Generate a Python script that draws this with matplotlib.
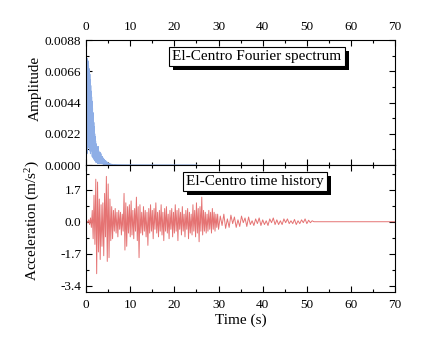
import matplotlib
matplotlib.use("Agg")
import matplotlib.pyplot as plt
import numpy as np
from matplotlib.ticker import MultipleLocator
from matplotlib.patches import Rectangle
from matplotlib.transforms import IdentityTransform

plt.rcParams['font.family'] = ['Liberation Serif', 'DejaVu Serif']
plt.rcParams['mathtext.fontset'] = 'custom'
plt.rcParams['mathtext.rm'] = 'Liberation Serif'
plt.rcParams['mathtext.it'] = 'Liberation Serif:italic'

# Fourier spectrum amplitude (x 1e-4), sampled every 0.05 Hz from 0 to 6 Hz
spec_freq = np.round(np.arange(0, 6.001, 0.05), 2)
spec_amp = [
    5, 60, 10, 72, 8, 75, 20, 74, 15, 73,
    30, 70, 12, 68, 25, 66, 10, 64, 20, 60,
    8, 56, 18, 52, 10, 48, 14, 45, 6, 40,
    12, 37, 5, 33, 10, 30, 4, 27, 8, 22,
    3, 20, 6, 17, 2, 15, 5, 14, 2, 13,
    4, 12, 1, 11, 3, 13, 1, 10, 3, 9,
    1, 8, 2, 9, 1, 7, 2, 8, 1, 6,
    1, 5, 1, 6, 1, 4, 1, 5, 0.5, 4,
    1, 3, 0.5, 4, 0.5, 3, 0.5, 2.5, 0.3, 3,
    0.3, 2, 0.3, 2, 0.2, 1.5, 0.2, 2, 0.2, 1.2,
    0.2, 1, 0.1, 1.2, 0.1, 0.8, 0.1, 1, 0.1, 0.6,
    0.1, 0.5, 0.1, 0.6, 0.1, 0.4, 0.1, 0.5, 0.1, 0.3,
    0.2,
]
spec_tail_freq = [6.5, 7.0, 8.0, 10.0, 15.0, 25.0]
spec_tail_amp = [0.3, 0.2, 0.15, 0.1, 0.05, 0.02]

# acceleration record (m/s^2): 0.2 s steps for 0-29.8 s
acc_fast = [
    0.0, 0.02, -0.05, 0.1, -0.15, 0.2, -0.3, 0.6, -0.9, 1.4,
    -1.2, 2.25, -2.75, 2.1, -1.6, 1.2, -2.0, 0.9, -1.3, 1.0,
    -1.8, 1.5, -0.8, 2.4, -2.1, 2.0, -1.9, 1.2, -1.0, 0.8,
    -0.9, 0.6, -0.5, 0.7, -0.6, 0.5, -0.8, 0.6, -0.4, 0.5,
    -0.7, 0.4, -0.5, 1.5, -1.5, 1.0, -1.3, 0.8, -0.6, 0.9,
    -0.8, 1.1, -0.7, 0.6, -0.9, 0.7, -0.5, 1.3, -1.0, 0.8,
    -1.9, 0.9, -0.6, 0.5, -0.7, 0.8, -0.5, 0.6, -0.8, 0.5,
    -1.25, 0.7, -0.6, 0.9, -0.5, 0.6, -0.9, 0.7, -0.4, 1.0,
    -0.6, 0.5, -0.8, 0.6, -0.5, 0.9, -0.7, 0.5, -1.0, 0.7,
    -0.5, 0.8, -0.6, 0.4, -0.9, 0.6, -0.4, 0.7, -0.8, 0.5,
    -0.6, 0.9, -0.5, 0.6, -1.0, 0.7, -0.4, 0.5, -0.7, 0.8,
    -0.5, 0.4, -0.8, 0.6, -0.4, 0.7, -0.9, 0.5, -0.6, 0.4,
    -0.7, 0.9, -0.5, 0.6, -0.8, 1.0, -0.6, 0.7, -1.06, 0.8,
    -0.5, 1.3, -0.7, 0.6, -0.5, 0.5, -0.6, 0.4, -0.5, 0.6,
    -0.4, 0.5, -0.6, 0.7, -0.4, 0.5, -0.5, 0.4, -0.3, 0.4,
]
# 0.4 s steps for 30.0-53.6 s
acc_slow = [
    -0.4, 0.3, -0.2, 0.4, -0.35, 0.15, -0.3, 0.35, -0.1, 0.25,
    -0.3, 0.1, -0.25, 0.3, -0.05, 0.2, -0.25, 0.25, -0.15, 0.05,
    -0.2, 0.15, -0.1, 0.2, -0.2, 0.1, -0.15, 0.05, -0.2, 0.15,
    -0.05, 0.2, -0.15, 0.1, -0.15, 0.05, -0.15, 0.15, -0.05, 0.15,
    -0.1, 0.05, -0.1, 0.12, -0.15, 0.05, -0.1, 0.1, -0.05, 0.15,
    -0.1, 0.08, -0.05, 0.05, 0.0, 0.0, 0.0, 0.0, 0.0, 0.0,
]
acc_end_time = [70.0]
acc_end = [0.0]

time = np.concatenate([np.round(np.arange(0, 29.9, 0.2), 2),
                       np.round(np.arange(30.0, 53.7, 0.4), 2),
                       acc_end_time])
acc = np.array(acc_fast + acc_slow + acc_end)
freq = np.concatenate([spec_freq, spec_tail_freq])
amp = np.array(spec_amp + spec_tail_amp) * 1e-4

fig = plt.figure(figsize=(4.24, 3.46), dpi=100)
ax1 = fig.add_axes([0.203, 0.523, 0.729, 0.361])
ax2 = fig.add_axes([0.203, 0.156, 0.729, 0.367], sharex=ax1)

ax1.plot(freq, amp, color='#8eaee6', lw=0.8)
ax2.plot(time, acc, color='#e57373', lw=0.7)

ax1.set_xlim(0, 70)
ax1.set_ylim(0, 0.0088)
ax1.set_yticks([0, 0.0022, 0.0044, 0.0066, 0.0088])
ax1.set_yticklabels(['0.0000', '0.0022', '0.0044', '0.0066', '0.0088'])
ax1.yaxis.set_minor_locator(MultipleLocator(0.0011))
ax2.set_ylim(-3.72, 3.0)
ax2.set_yticks([-3.4, -1.7, 0, 1.7])
ax2.set_yticklabels(['-3.4', '-1.7', '0.0', '1.7'])
ax2.yaxis.set_minor_locator(MultipleLocator(0.85))
ax2.xaxis.set_major_locator(MultipleLocator(10))
ax2.xaxis.set_minor_locator(MultipleLocator(5))

for ax in (ax1, ax2):
    ax.tick_params(which='both', direction='in', top=True, right=True,
                   labelsize=9.5, width=0.8)
    ax.tick_params(which='major', length=4)
    ax.tick_params(which='minor', length=2)
    ax.tick_params(axis='x', pad=5)
    for s in ax.spines.values():
        s.set_linewidth(0.8)
ax1.tick_params(axis='x', labeltop=True, labelbottom=False)

ax1.set_ylabel('Amplitude', fontsize=11)
ax2.set_ylabel('Acceleration (m/s$^2$)', fontsize=11)
ax2.set_xlabel('Time (s)', fontsize=11, labelpad=2)
ax1.yaxis.set_label_coords(-0.142, 0.616)
ax2.yaxis.set_label_coords(-0.142, 0.56)

boxes = []


def shadow_box(ax, x, y, txt):
    t = ax.text(x, y, txt, transform=ax.transAxes, ha='center', va='center',
                fontsize=11, color='black', zorder=6,
                bbox=dict(boxstyle='square,pad=0.22', fc='white', ec='black', lw=0.8))
    boxes.append((ax, t))


shadow_box(ax1, 0.553, 0.868, 'El-Centro Fourier spectrum')
shadow_box(ax2, 0.547, 0.870, 'El-Centro time history')

# drop shadows behind the label boxes
fig.canvas.draw()
for ax, t in boxes:
    bb = t.get_bbox_patch().get_window_extent()
    sh = Rectangle((bb.x0 + 4, bb.y0 - 4), bb.width, bb.height,
                   transform=IdentityTransform(), fc='black', ec='none',
                   zorder=5, clip_on=False)
    ax.add_artist(sh)

fig.savefig('out.png', dpi=100)
